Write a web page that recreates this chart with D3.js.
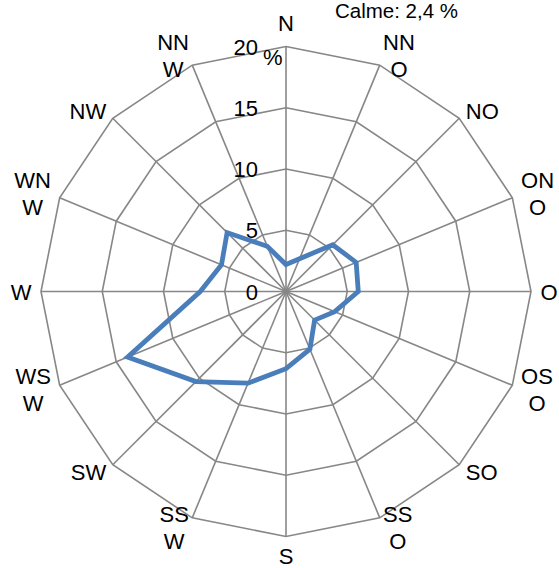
<!DOCTYPE html>
<html>
<head>
<meta charset="utf-8">
<script src="https://cdn.jsdelivr.net/npm/d3@7"></script>
<style>
  html, body { margin: 0; padding: 0; background: #fff; }
  svg { display: block; font-family: "Liberation Sans", Arial, sans-serif; }
</style>
</head>
<body>
<svg id="chart" width="559" height="568"></svg>
<script>
// Wind direction frequencies (%) for the 16 compass sectors
const categories = ["N","NNO","NO","ONO","O","OSO","SO","SSO","S","SSW","SW","WSW","W","WNW","NW","NNW"];
const frequency  = [2.2, 2.9, 5.4, 6.2, 5.9, 4.3, 3.3, 5.1, 6.3, 8.1, 10.4, 14.0, 7.0, 5.7, 6.8, 4.0];
const tickValues = [0, 5, 10, 15, 20];
const unitLabel  = "%";
const calmeLabel = "Calme: 2,4 %";

const svg = d3.select("#chart");
const cx = 286, cy = 291.5, R = 245;
const n = categories.length;

const angle = d3.scaleLinear().domain([0, n]).range([0, 2 * Math.PI]);
const radius = d3.scaleLinear().domain([0, 20]).range([0, R]);

const g = svg.append("g").attr("transform", `translate(${cx},${cy})`);

const gridColor = "#878787";

// concentric polygon rings
const ring = d3.lineRadial()
  .angle((d, i) => angle(i))
  .radius(d => radius(d))
  .curve(d3.curveLinearClosed);

tickValues.filter(t => t > 0).forEach(t => {
  g.append("path")
    .attr("d", ring(categories.map(() => t)))
    .attr("fill", "none")
    .attr("stroke", gridColor)
    .attr("stroke-width", 1.6);
});

// spokes
g.selectAll("line.spoke")
  .data(categories)
  .join("line")
  .attr("class", "spoke")
  .attr("x1", 0).attr("y1", 0)
  .attr("x2", (d, i) => radius(20) * Math.sin(angle(i)))
  .attr("y2", (d, i) => -radius(20) * Math.cos(angle(i)))
  .attr("stroke", gridColor)
  .attr("stroke-width", 1.6);

// data series
g.append("path")
  .attr("d", ring(frequency))
  .attr("fill", "none")
  .attr("stroke", "#4a7ebb")
  .attr("stroke-width", 4.8)
  .attr("stroke-linejoin", "miter");

// value axis labels
const fs = 22;
g.selectAll("text.tick")
  .data(tickValues)
  .join("text")
  .attr("class", "tick")
  .attr("x", -28)
  .attr("y", d => -radius(d) + 8)
  .attr("text-anchor", "end")
  .attr("font-size", fs)
  .attr("fill", "#000")
  .text(d => d);

g.append("text")
  .attr("x", -23)
  .attr("y", -radius(20) + 18)
  .attr("font-size", fs)
  .attr("fill", "#000")
  .text(unitLabel);

// category labels (3-letter names wrap onto two lines)
const lineGap = 27;
categories.forEach((name, i) => {
  const a = angle(i);
  const s = Math.sin(a), c = Math.cos(a);
  const vx = radius(20) * s, vy = -radius(20) * c;
  const lines = name.length > 2 ? [name.slice(0, 2), name.slice(2)] : [name];
  const t = g.append("text")
    .attr("font-size", fs)
    .attr("fill", "#000")
    .attr("text-anchor", "middle");
  const spans = lines.map(l => t.append("tspan").text(l));
  const w = d3.max(spans, sp => sp.node().getComputedTextLength());
  const h = (lines.length - 1) * lineGap;
  let xc, yc;
  if (Math.abs(s) < 0.01) {
    xc = vx;
    yc = c > 0 ? vy - 23.5 : vy + 19;
  } else {
    const gap = 10 * Math.abs(s) - 0.5;
    xc = vx + Math.sign(s) * (gap + w / 2);
    yc = vy - c * 10;
  }
  spans.forEach((sp, k) => {
    sp.attr("x", xc).attr("y", yc - h / 2 + k * lineGap + 8);
  });
});

// calm share note
svg.append("text")
  .attr("x", 396.5)
  .attr("y", 17.5)
  .attr("text-anchor", "middle")
  .attr("font-size", 20.5)
  .attr("fill", "#000")
  .text(calmeLabel);
</script>
</body>
</html>
